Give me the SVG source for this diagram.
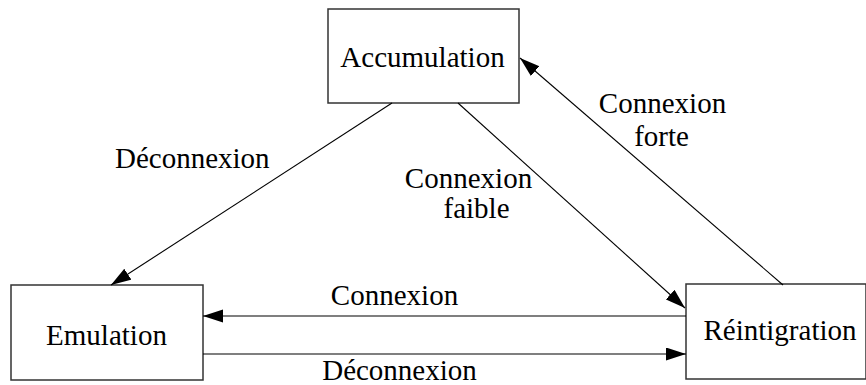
<svg xmlns="http://www.w3.org/2000/svg" width="866" height="385" viewBox="0 0 866 385">
  <defs>
    <style>
      .box { fill: #ffffff; stroke: #333333; stroke-width: 1.5; }
      .edge { fill: none; stroke: #000000; stroke-width: 1.1; marker-end: url(#head); }
      text { font-family: "Liberation Serif", "Times New Roman", serif; font-size: 29px; fill: #000000; }
      .c { text-anchor: middle; }
    </style>
    <marker id="head" markerUnits="userSpaceOnUse" markerWidth="22" markerHeight="14" refX="20" refY="6.5" orient="auto">
      <path d="M0,0 L20,6.5 L0,13 Z" fill="#000000"/>
    </marker>
  </defs>
  <rect width="866" height="385" fill="#ffffff"/>

  <g id="accumulation">
    <rect class="box" x="328" y="9" width="191" height="94"/>
    <text class="c" x="422.5" y="67">Accumulation</text>
  </g>

  <g id="emulation">
    <rect class="box" x="11" y="285" width="192" height="95"/>
    <text class="c" x="106.5" y="345">Emulation</text>
  </g>

  <g id="reintigration">
    <rect class="box" x="686" y="284" width="180" height="95"/>
    <text class="c" x="780" y="340">Réintigration</text>
  </g>

  <g id="connectors">
    <line class="edge" x1="392" y1="103" x2="111" y2="285"/>
    <line class="edge" x1="458" y1="103" x2="685" y2="308"/>
    <line class="edge" x1="783" y1="285" x2="520" y2="58"/>
    <line class="edge" x1="686" y1="316" x2="203" y2="316"/>
    <line class="edge" x1="203" y1="354" x2="686" y2="354"/>

    <text x="115" y="168">Déconnexion</text>
    <text class="c" x="468.5" y="188">Connexion</text>
    <text class="c" x="476.5" y="218">faible</text>
    <text class="c" x="662.5" y="113">Connexion</text>
    <text class="c" x="661.5" y="146">forte</text>
    <text class="c" x="394.5" y="305">Connexion</text>
    <text class="c" x="399.5" y="380">Déconnexion</text>
  </g>
</svg>
